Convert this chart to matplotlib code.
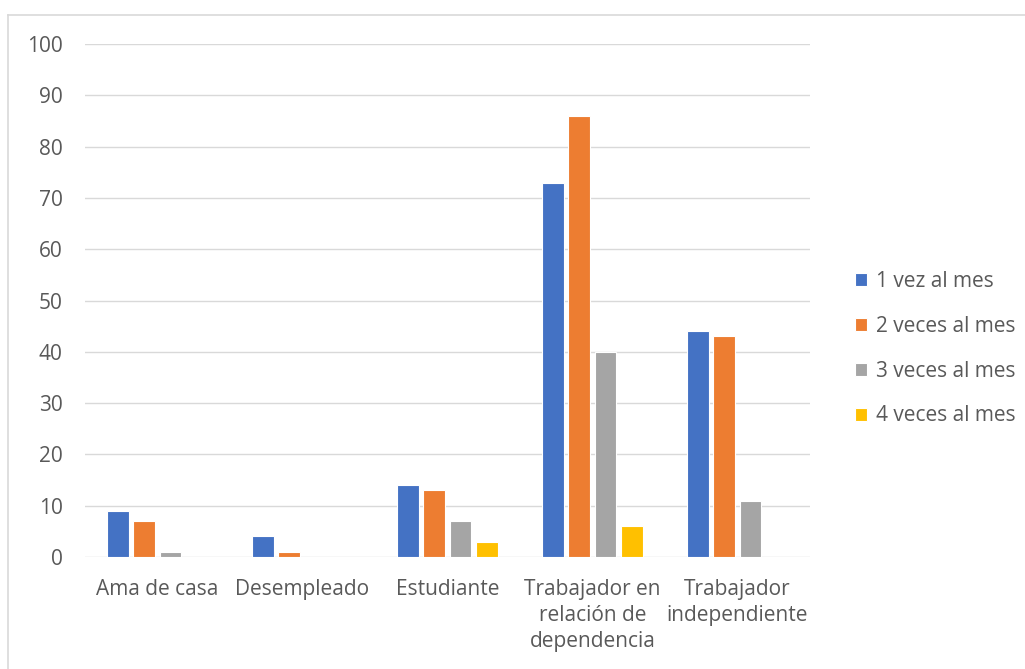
import matplotlib
matplotlib.use("Agg")
import matplotlib.pyplot as plt
from matplotlib.lines import Line2D
import numpy as np

categories = ["Ama de casa", "Desempleado", "Estudiante",
              "Trabajador en\nrelación de\ndependencia", "Trabajador\nindependiente"]
series_names = ["1 vez al mes", "2 veces al mes", "3 veces al mes", "4 veces al mes"]
vez_1 = [9, 4, 14, 73, 44]
veces_2 = [7, 1, 13, 86, 43]
veces_3 = [1, 0, 7, 40, 11]
veces_4 = [0, 0, 3, 6, 0]
y_ticks = list(range(0, 101, 10))

colors = ["#4472C4", "#ED7D31", "#A5A5A5", "#FFC000"]
text_color = "#595959"
grid_color = "#D9D9D9"

plt.rcParams["font.family"] = ["Open Sans", "DejaVu Sans"]
fs = 15

fig = plt.figure(figsize=(10.25, 6.69), dpi=100)
ax = fig.add_axes([0.0829, 0.1674, 0.7073, 0.7668])

x = np.arange(len(categories))
slot = 0.181
bar_w = 0.15
all_series = [vez_1, veces_2, veces_3, veces_4]
for i, (vals, name, c) in enumerate(zip(all_series, series_names, colors)):
    offs = (i - 1.5) * slot
    ax.bar(x + offs, vals, width=bar_w, color=c, edgecolor="white",
           linewidth=0.8, label=name, zorder=3)

ax.set_xlim(-0.5, len(categories) - 0.5)
ax.set_ylim(0, 100)
ax.set_yticks(y_ticks)
ax.set_xticks(x)
ax.set_xticklabels(categories, linespacing=1.3, va="top")
ax.grid(axis="y", color=grid_color, linewidth=1.0, zorder=0)
for s in ax.spines.values():
    s.set_visible(False)
ax.tick_params(axis="both", length=0, labelsize=fs, colors=text_color)
ax.tick_params(axis="y", pad=16)
ax.tick_params(axis="x", pad=16)

leg = fig.legend(loc="center left", bbox_to_anchor=(0.816, 0.479), frameon=False,
                 fontsize=fs, handlelength=0.58, handleheight=0.58,
                 handletextpad=0.4, labelspacing=1.15, labelcolor=text_color)

# chart frame
fig.add_artist(Line2D([0.0078, 1.0], [0.977, 0.977], transform=fig.transFigure,
                      color=grid_color, linewidth=1.2))
fig.add_artist(Line2D([0.0078, 0.0078], [0.0, 0.977], transform=fig.transFigure,
                      color=grid_color, linewidth=1.2))

fig.savefig("out.png", dpi=100, facecolor="white")
